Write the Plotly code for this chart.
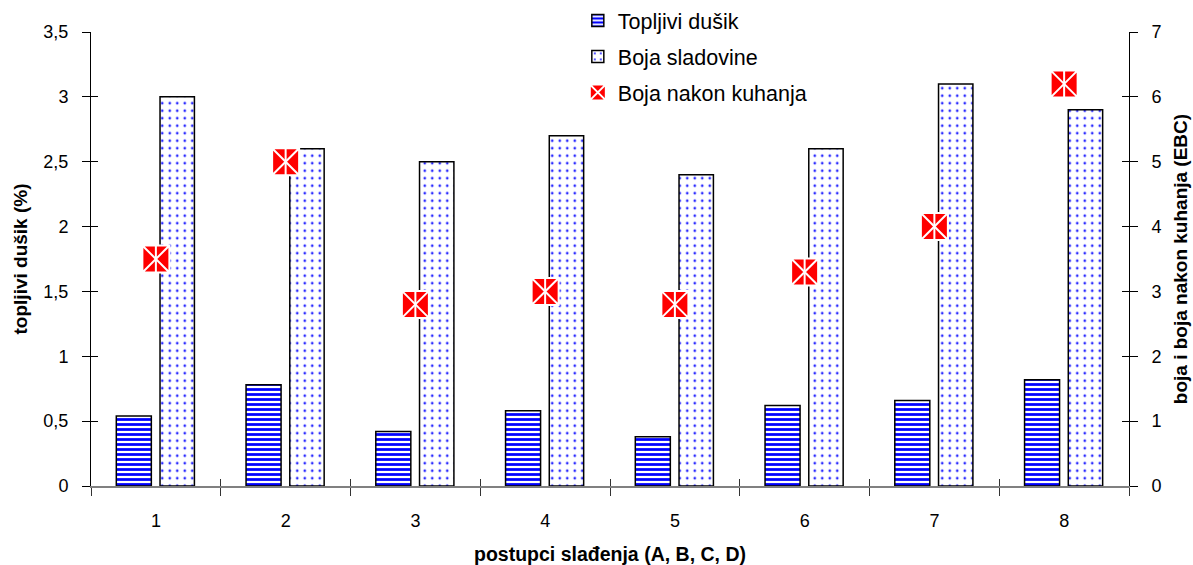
import plotly.graph_objects as go

categories = ["1", "2", "3", "4", "5", "6", "7", "8"]
topljivi_dusik = [0.54, 0.78, 0.42, 0.58, 0.38, 0.62, 0.66, 0.82]
boja_sladovine = [6.0, 5.2, 5.0, 5.4, 4.8, 5.2, 6.2, 5.8]
boja_nakon_kuhanja = [3.5, 5.0, 2.8, 3.0, 2.8, 3.3, 4.0, 6.2]

left_ticks = [0, 0.5, 1, 1.5, 2, 2.5, 3, 3.5]
left_ticktext = ["0", "0,5", "1", "1,5", "2", "2,5", "3", "3,5"]
right_ticks = [0, 1, 2, 3, 4, 5, 6, 7]

FONT = "Liberation Sans, Arial, sans-serif"

fig = go.Figure()

fig.add_trace(go.Bar(
    x=categories, y=topljivi_dusik, name="Topljivi dušik",
    yaxis="y", width=0.27, offset=-0.305,
    marker=dict(color="white", line=dict(color="black", width=1.5),
                pattern=dict(shape="-", fgcolor="#0000ff", bgcolor="white",
                             size=5, solidity=0.55, fillmode="overlay", fgopacity=1)),
    legendgroup="a",
))
fig.add_trace(go.Bar(
    x=categories, y=boja_sladovine, name="Boja sladovine",
    yaxis="y2", width=0.265, offset=0.032,
    marker=dict(color="white", line=dict(color="black", width=1.5),
                pattern=dict(shape=".", fgcolor="#2a2aff", bgcolor="white",
                             size=7.5, solidity=0.1, fillmode="overlay", fgopacity=1)),
    legendgroup="b",
))
fig.add_trace(go.Scatter(
    x=categories, y=boja_nakon_kuhanja, name="Boja nakon kuhanja",
    yaxis="y2", mode="markers",
    marker=dict(symbol="square-x", size=27, color="#ff0000", line=dict(color="white", width=2)),
    legendgroup="c",
))
fig.add_trace(go.Scatter(
    x=categories, y=boja_nakon_kuhanja, yaxis="y2", mode="markers",
    marker=dict(symbol="line-ns-open", size=23, color="white", line=dict(color="white", width=2)),
    showlegend=False, hoverinfo="skip",
))
# invisible traces carrying the inner halves of the crossing ticks
fig.add_trace(go.Scatter(
    x=categories, y=topljivi_dusik, xaxis="x2", yaxis="y3", mode="markers",
    marker=dict(opacity=0), showlegend=False, hoverinfo="skip",
))
fig.add_trace(go.Scatter(
    x=categories, y=boja_sladovine, xaxis="x", yaxis="y4", mode="markers",
    marker=dict(opacity=0), showlegend=False, hoverinfo="skip",
))

fig.update_layout(
    width=1193, height=565,
    margin=dict(l=91, r=64, t=32, b=79, autoexpand=False),
    paper_bgcolor="white", plot_bgcolor="white",
    font=dict(family=FONT, size=18, color="black"),
    barmode="overlay",
    showlegend=True,
    legend=dict(x=0.469, y=1.0, xref="paper", yref="container",
                xanchor="left", yanchor="top",
                bgcolor="rgba(0,0,0,0)", font=dict(size=21.5),
                traceorder="grouped", tracegroupgap=5, itemwidth=30),
    xaxis=dict(
        type="category", range=[-0.5, 7.5], automargin=False,
        showline=True, linecolor="#808080", linewidth=1.5,
        ticks="outside", ticklen=8, tickcolor="#333333", tickson="boundaries",
        ticklabelstandoff=18,
        showgrid=False, zeroline=False,
        title=dict(text="<b>postupci slađenja (A, B, C, D)</b>", font=dict(size=19.5), standoff=18),
    ),
    xaxis2=dict(
        type="category", range=[-0.5, 7.5], overlaying="x", side="bottom",
        anchor="y3", automargin=False,
        showline=False, ticks="inside", ticklen=7, tickcolor="#333333",
        tickson="boundaries", showticklabels=False, showgrid=False, zeroline=False,
    ),
    yaxis=dict(
        range=[0, 3.5], tickvals=left_ticks, ticktext=left_ticktext, automargin=False,
        showline=True, linecolor="black", linewidth=1,
        ticks="outside", ticklen=8, tickcolor="black", ticklabelstandoff=10,
        showgrid=False, zeroline=False,
        title=dict(text="<b>topljivi dušik (%)</b>", font=dict(size=19), standoff=10),
    ),
    yaxis3=dict(
        range=[0, 3.5], tickvals=left_ticks, overlaying="y", side="left", anchor="x",
        automargin=False, showline=False, ticks="inside", ticklen=7, tickcolor="black",
        showticklabels=False, showgrid=False, zeroline=False,
    ),
    yaxis2=dict(
        range=[0, 7], tickvals=right_ticks, overlaying="y", side="right", automargin=False,
        showline=True, linecolor="black", linewidth=1,
        ticks="outside", ticklen=8, tickcolor="black", ticklabelstandoff=10,
        showgrid=False, zeroline=False,
        title=dict(text="<b>boja i boja nakon kuhanja (EBC)</b>", font=dict(size=19), standoff=13),
    ),
    yaxis4=dict(
        range=[0, 7], tickvals=right_ticks, overlaying="y", side="right", anchor="x",
        automargin=False, showline=False, ticks="inside", ticklen=7, tickcolor="black",
        showticklabels=False, showgrid=False, zeroline=False,
    ),
)

fig.write_html("out.html", post_script="document.body.style.margin='0';",
               config={"displayModeBar": False})
